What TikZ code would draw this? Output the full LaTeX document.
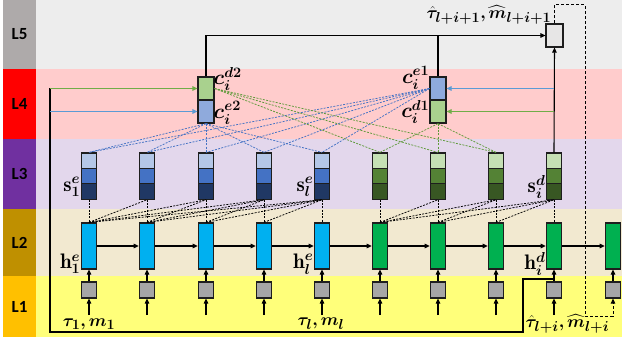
\documentclass[tikz,border=0pt]{standalone}
\usepackage{fontspec}
\newfontfamily\labfont{Carlito}
\usepackage{amsmath}
\usepackage{bm}
\usetikzlibrary{arrows.meta}
\definecolor{bandV}{HTML}{EDEDED}
\definecolor{labV}{HTML}{AEAAAA}
\definecolor{bandIV}{HTML}{FFCCCC}
\definecolor{labIV}{HTML}{FF0000}
\definecolor{bandIII}{HTML}{E3D7EC}
\definecolor{labIII}{HTML}{7030A0}
\definecolor{bandII}{HTML}{F2E9D0}
\definecolor{labII}{HTML}{BF9000}
\definecolor{bandI}{HTML}{FFFF7A}
\definecolor{labI}{HTML}{FFC000}
\definecolor{hblue}{HTML}{00B0F0}
\definecolor{hgreen}{HTML}{00B050}
\definecolor{sbA}{HTML}{B4C7E7}
\definecolor{sbB}{HTML}{4472C4}
\definecolor{sbC}{HTML}{203864}
\definecolor{sgA}{HTML}{C5E0B4}
\definecolor{sgB}{HTML}{548235}
\definecolor{sgC}{HTML}{385723}
\definecolor{cgreen}{HTML}{A9D18E}
\definecolor{cblue}{HTML}{8FAADC}
\definecolor{agreen}{HTML}{70AD47}
\definecolor{ablue}{HTML}{5B9BD5}
\definecolor{dblue}{HTML}{4472C4}
\definecolor{dgreen}{HTML}{5E9A3A}
\definecolor{grayq}{HTML}{A6A6A6}
\definecolor{outgray}{HTML}{E7E6E6}
\definecolor{edge}{HTML}{1E1E1E}
\tikzset{
  layerlab/.style={inner sep=0pt, minimum width=33pt, font=\labfont\fontsize{17}{18}\selectfont\bfseries, text=black},
  boxe/.style={draw=edge, line width=1.2pt, inner sep=0pt, minimum width=15.5pt},
  hbox/.style={boxe, minimum height=46pt},
  gsq/.style={boxe, fill=grayq, minimum height=16pt, minimum width=15pt},
  sseg/.style={boxe, minimum height=15.3pt},
  cbox/.style={boxe, minimum height=23pt, minimum width=16pt},
  arr/.style={line width=1.1pt, -{Triangle[length=5pt,width=4.5pt]}},
  plain/.style={line width=1.1pt},
  garr/.style={line width=1.2pt, agreen, -{Triangle[length=5pt,width=4.5pt]}},
  barr/.style={line width=1.2pt, ablue, -{Triangle[length=5pt,width=4.5pt]}},
  kdash/.style={line width=0.75pt, dash pattern=on 2pt off 1.3pt},
  bdash/.style={line width=0.75pt, dblue, dash pattern=on 2pt off 1.3pt},
  gdash/.style={line width=0.75pt, dgreen, dash pattern=on 2pt off 1.3pt},
  mlab/.style={inner sep=0.5pt, font=\fontsize{21}{22}\selectfont},
  tlab/.style={inner sep=0.5pt, font=\fontsize{19}{21}\selectfont},
}
\begin{document}
\begin{tikzpicture}[x=1pt,y=-1pt]
\useasboundingbox (0,0) rectangle (622,345);
% bands
\fill[bandV] (36,0) rectangle (622,69);
\fill[bandIV] (36,69) rectangle (622,139);
\fill[bandIII] (36,139) rectangle (622,209);
\fill[bandII] (36,209) rectangle (622,276);
\fill[bandI] (36,276) rectangle (622,337);
\node[layerlab, fill=labV, minimum height=69pt] (L5) at (19.5,34.5) {L5};
\node[layerlab, fill=labIV, minimum height=70pt] (L4) at (19.5,104) {L4};
\node[layerlab, fill=labIII, minimum height=70pt] (L3) at (19.5,174) {L3};
\node[layerlab, fill=labII, minimum height=67pt] (L2) at (19.5,242.5) {L2};
\node[layerlab, fill=labI, minimum height=61pt] (L1) at (19.5,306.5) {L1};
% columns
\foreach \j/\x in {1/89,2/147,3/206,4/264,5/322,6/380,7/438,8/496,9/554,10/613}{
  \node[gsq] (g\j) at (\x,290) {};
  \node[hbox, fill=\ifnum\j<6 hblue\else hgreen\fi] (h\j) at (\x,246) {};
  \draw[arr] (g\j.north) -- (h\j.south);
}
\foreach \j/\x in {1/89,2/147,3/206,4/264,5/322,6/380,7/438,8/496,9/554}{
  \coordinate (in\j) at (\x,315);
  \draw[arr] (in\j) -- (g\j.south);
}
\foreach \j/\x in {1/89,2/147,3/206,4/264,5/322}{
  \node[sseg, fill=sbA, minimum height=16pt] (sa\j) at (\x,161) {};
  \node[sseg, fill=sbB] (sb\j) at (\x,176.5) {};
  \node[sseg, fill=sbC] (sc\j) at (\x,191.5) {};
}
\foreach \j/\x in {6/380,7/438,8/496,9/554}{
  \node[sseg, fill=sgA, minimum height=16pt] (sa\j) at (\x,161) {};
  \node[sseg, fill=sgB] (sb\j) at (\x,176.5) {};
  \node[sseg, fill=sgC] (sc\j) at (\x,191.5) {};
}
% recurrent arrows
\foreach \j [evaluate=\j as \k using int(\j+1)] in {1,...,9}{
  \draw[arr] (h\j.east) -- (h\k.west);
}
% L2-L3 dashed
\foreach \j in {1,...,9}{ \draw[kdash] (sc\j.south) -- (h\j.north); }
\foreach \k/\j in {1/2,1/3,1/4,1/5,2/3,2/4,2/5,3/4,3/5,4/5,6/7,6/8,6/9,7/8,7/9,8/9}{
  \draw[kdash] (h\k.north) -- (sc\j.south);
}
% context boxes
\node[cbox, fill=cgreen] (cd2) at (206,88.5) {};
\node[cbox, fill=cblue] (ce2) at (206,111.5) {};
\node[cbox, fill=cblue] (ce1) at (438,88.5) {};
\node[cbox, fill=cgreen] (cd1) at (438,111.5) {};
% L3-L4 dashed
\foreach \j in {1,...,5}{
  \draw[bdash] (ce2.south) -- (sa\j.north);
  \draw[bdash] (ce1.west) -- (sa\j.north);
}
\foreach \j in {6,7,8}{
  \draw[gdash] (cd2.east) -- (sa\j.north);
  \draw[gdash] (cd1.south) -- (sa\j.north);
}
% output box
\node[boxe, fill=outgray, minimum width=17pt, minimum height=23pt] (out) at (554.5,35.5) {};
\draw[arr] (cd2.north) |- (out.west);
\draw[plain] (ce1.north) -- (ce1.north |- out.west);
\draw[arr] (sa9.north) -- (out.south);
\draw[barr] (sa9.north |- ce1.east) -- (ce1.east);
\draw[garr] (sa9.north |- cd1.east) -- (cd1.east);
% feedback loop
\coordinate (fbA) at (554,279);
\coordinate (fbB) at (523,279);
\coordinate (fbC) at (523,332);
\coordinate (fbD) at (50,332);
\draw[plain] (fbA) -- (fbB) -- (fbC) -- (fbD) -- (cd2.west -| fbD);
\draw[garr] (cd2.west -| fbD) -- (cd2.west);
\draw[barr] (ce2.west -| fbD) -- (ce2.west);
% dashed output feedback
\coordinate (dA) at (585,5);
\coordinate (dB) at (585,316);
\draw[arr, dash pattern=on 3pt off 2pt, line width=1pt] (out.north) |- (dA) -- (dB) -| (g10.south);
% labels
\node[mlab, anchor=east] (lh1) at (81,264) {$\mathbf{h}_{\bm 1}^{\bm e}$};
\node[mlab, anchor=east] (lhl) at (314,264) {$\mathbf{h}_{\bm l}^{\bm e}$};
\node[mlab, anchor=east] (lhi) at (546,264) {$\mathbf{h}_{\bm i}^{\bm d}$};
\node[mlab, anchor=east] (ls1) at (81,187) {$\mathbf{s}_{\bm 1}^{\bm e}$};
\node[mlab, anchor=east] (lsl) at (314,187) {$\mathbf{s}_{\bm l}^{\bm e}$};
\node[mlab, anchor=east] (lsi) at (546,187) {$\mathbf{s}_{\bm i}^{\bm d}$};
\node[tlab] (lt1) at (89,324) {$\boldsymbol{\tau_1, m_1}$};
\node[tlab] (ltl) at (321,324) {$\boldsymbol{\tau_l, m_l}$};
\node[tlab, anchor=west] (lti) at (525,324) {$\boldsymbol{\hat{\tau}_{l+i}, \widehat{m}_{l+i}}$};
\node[tlab, anchor=east] (ltop) at (552,15) {$\boldsymbol{\hat{\tau}_{l+i+1}, \widehat{m}_{l+i+1}}$};
\node[mlab, anchor=west] (lcd2) at (213,79) {$\boldsymbol{c_i^{d2}}$};
\node[mlab, anchor=west] (lce2) at (213,113) {$\boldsymbol{c_i^{e2}}$};
\node[mlab, anchor=east] (lce1) at (430,78) {$\boldsymbol{c_i^{e1}}$};
\node[mlab, anchor=east] (lcd1) at (430,112) {$\boldsymbol{c_i^{d1}}$};
\end{tikzpicture}
\end{document}
